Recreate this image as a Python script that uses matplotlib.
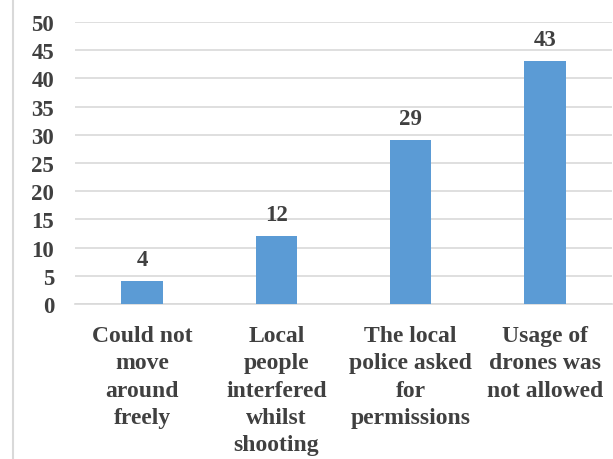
import matplotlib.pyplot as plt
from matplotlib.lines import Line2D
import numpy as np

# Chart data
categories = ["Could not\nmove\naround\nfreely",
              "Local\npeople\ninterfered\nwhilst\nshooting",
              "The local\npolice asked\nfor\npermissions",
              "Usage of\ndrones was\nnot allowed"]
values = [4, 12, 29, 43]
yticks = list(range(0, 51, 5))

text_color = "#404040"
bar_color = "#5b9bd5"
grid_color = "#d9d9d9"

plt.rcParams['font.family'] = 'serif'
plt.rcParams['font.serif'] = ['Liberation Serif', 'DejaVu Serif']
plt.rcParams['font.weight'] = 'bold'

fig = plt.figure(figsize=(6.13, 4.6), dpi=100)
ax = fig.add_axes([75 / 613, 1 - 305 / 460, 537 / 613, 282 / 460])

x = np.arange(len(categories))
bars = ax.bar(x, values, width=0.31, color=bar_color, zorder=3)

# Value labels above each bar
for rect, v in zip(bars, values):
    ax.text(rect.get_x() + rect.get_width() / 2, v + 2.0, str(v),
            ha='center', va='bottom', fontsize=16.5, fontweight='bold', color=text_color)

ax.set_ylim(0, 50)
ax.set_xlim(-0.5, len(categories) - 0.5)
ax.set_yticks(yticks)
ax.yaxis.grid(True, color=grid_color, linewidth=1.2, zorder=0)
ax.set_xticks(x)
ax.set_xticklabels(categories, fontsize=17, fontweight='bold', color=text_color,
                   linespacing=1.4, va='top')
ax.tick_params(axis='y', labelsize=16.5, labelcolor=text_color, length=0, pad=15)
ax.tick_params(axis='x', length=0, pad=15)
for lbl in ax.get_yticklabels():
    lbl.set_fontweight('bold')

for side in ['top', 'right', 'left']:
    ax.spines[side].set_visible(False)
ax.spines['bottom'].set_color(grid_color)
ax.spines['bottom'].set_linewidth(1.2)

# Thin border line at the left edge of the figure
fig.add_artist(Line2D([13 / 613, 13 / 613], [0, 1], color=grid_color, linewidth=1.5))

plt.savefig('out.png', dpi=100)
